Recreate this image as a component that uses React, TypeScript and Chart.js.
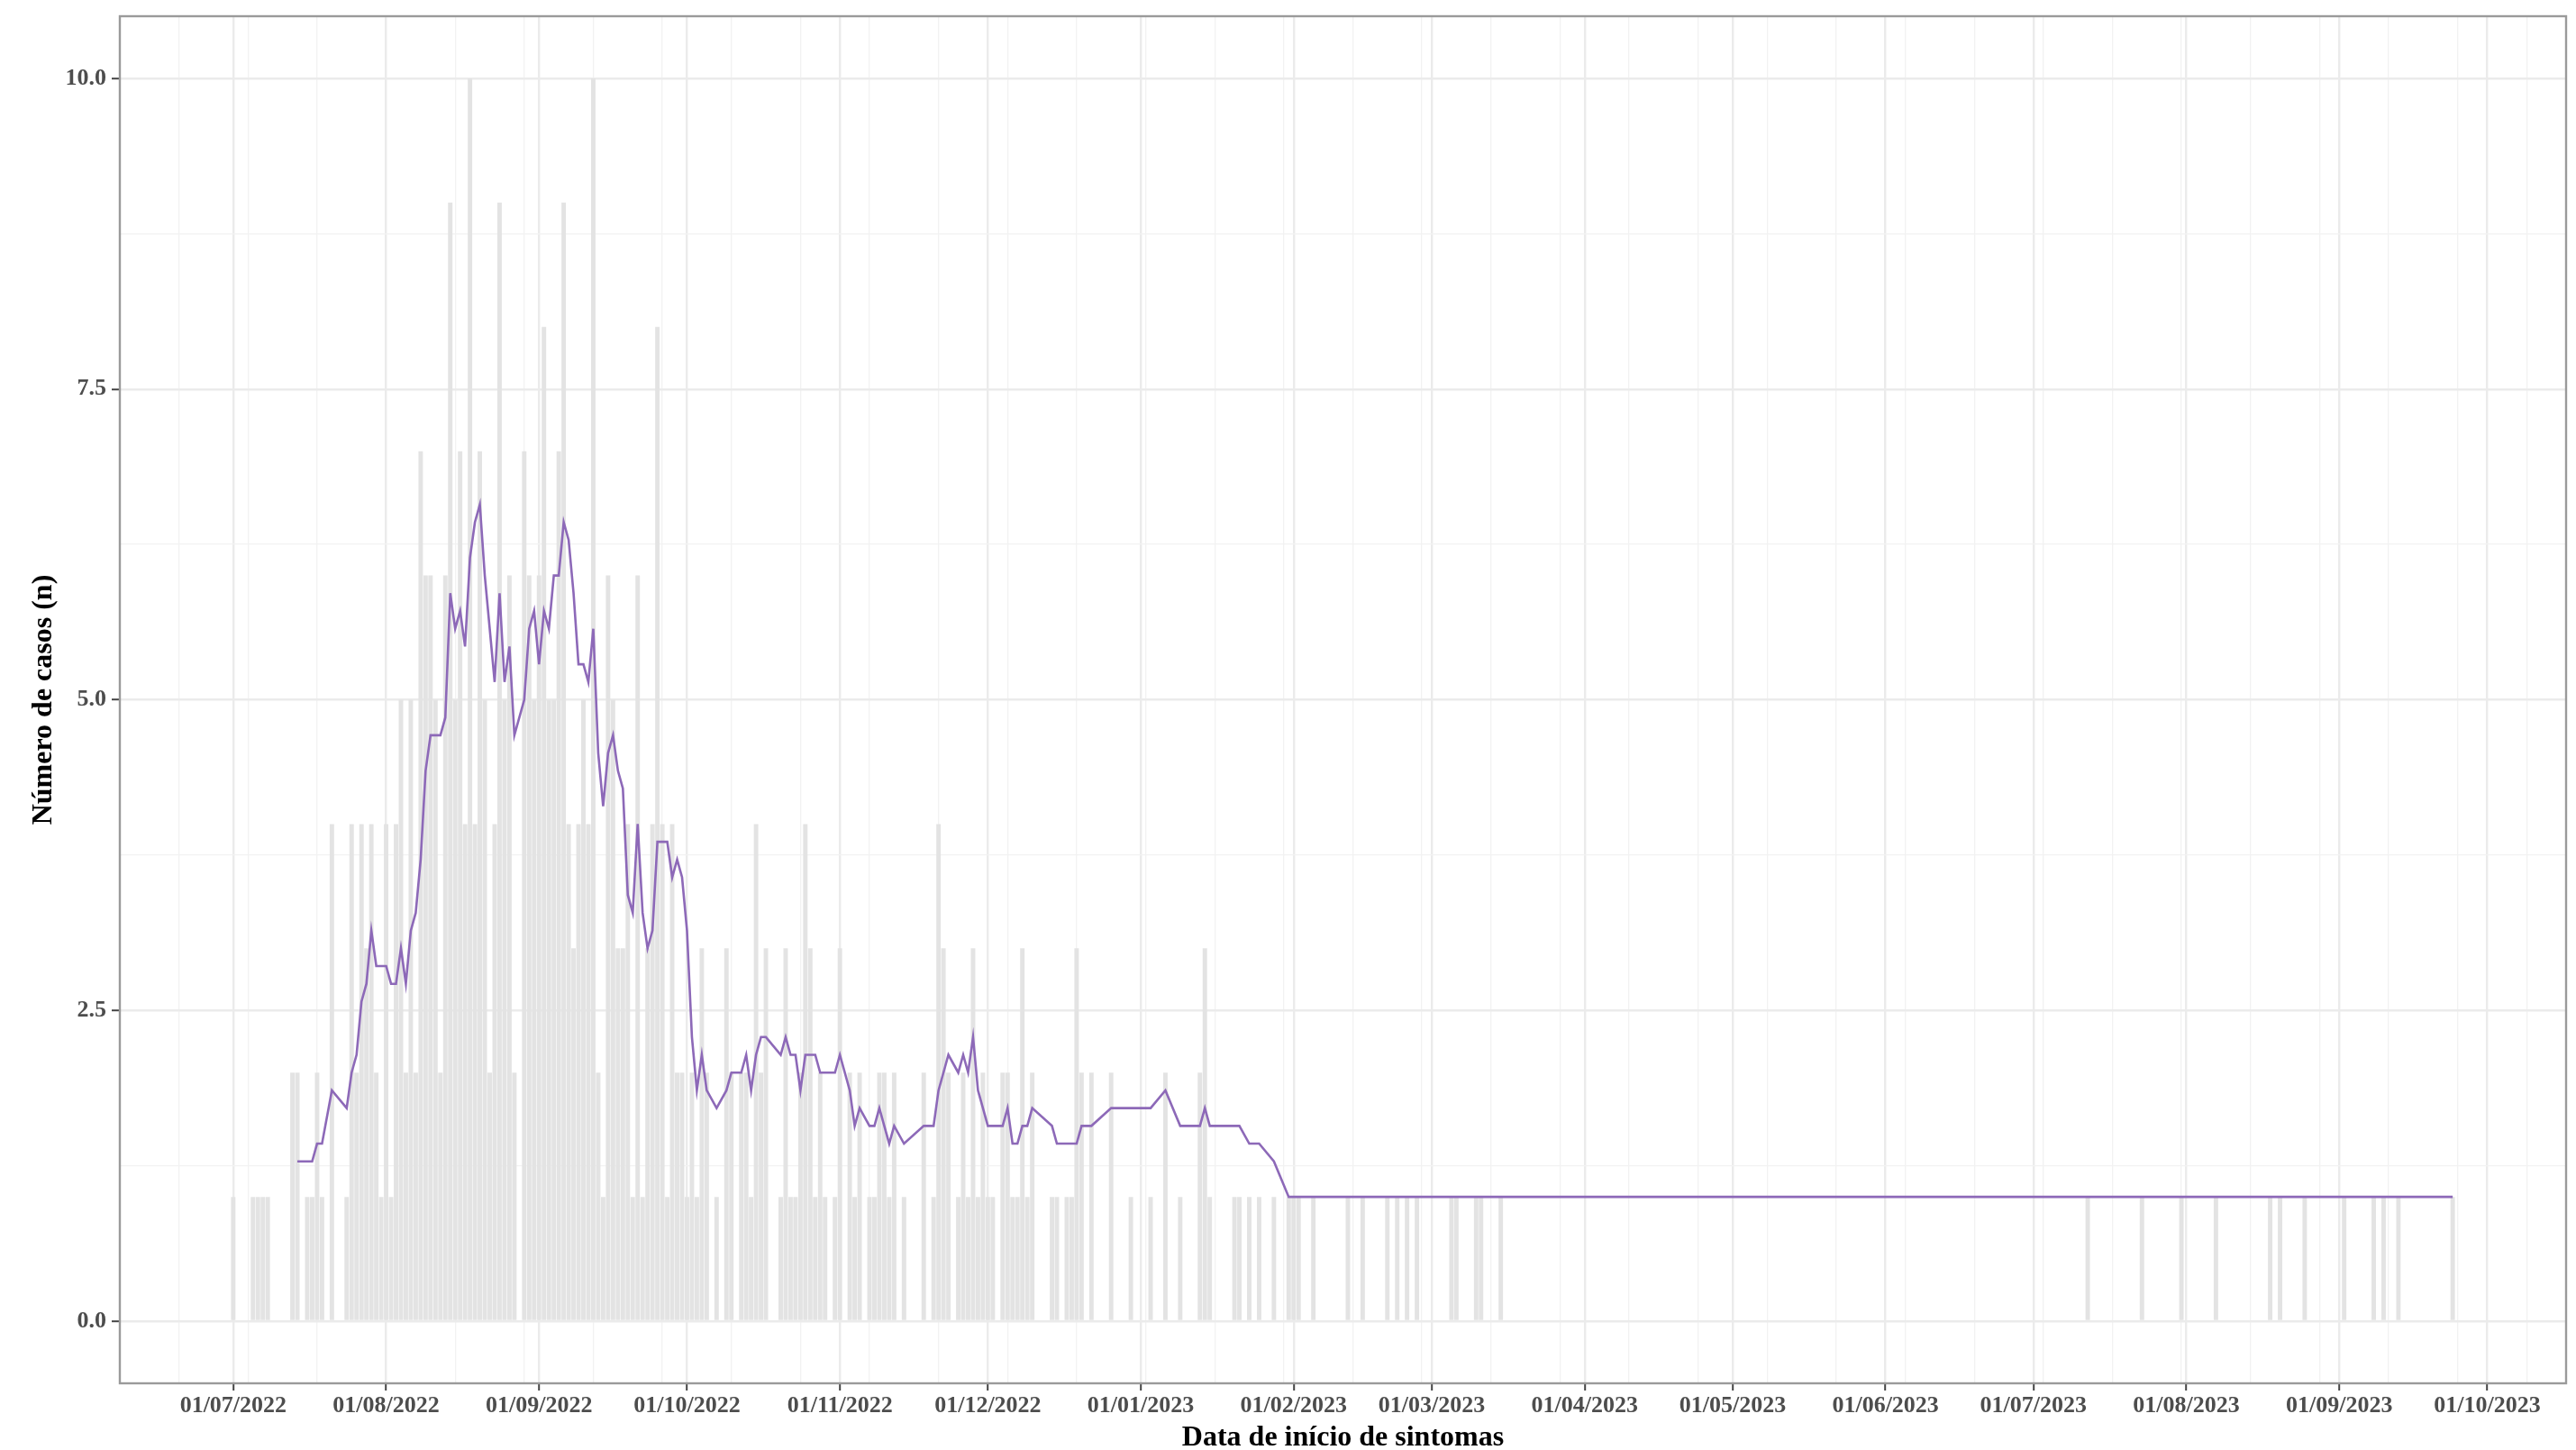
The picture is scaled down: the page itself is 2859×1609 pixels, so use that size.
import React, { useEffect, useRef } from "react";
import { Chart, registerables } from "chart.js";

Chart.register(...registerables);

// Symptom-onset dates that have at least one case, and the number of cases on each date
const caseDates: string[] = [
  // 2022-07
  "2022-07-01", "2022-07-05", "2022-07-06", "2022-07-07", "2022-07-08", "2022-07-13", "2022-07-14", "2022-07-16", "2022-07-17", "2022-07-18",
  "2022-07-19", "2022-07-21", "2022-07-24", "2022-07-25", "2022-07-26", "2022-07-27", "2022-07-28", "2022-07-29", "2022-07-30", "2022-07-31",
  // 2022-08
  "2022-08-01", "2022-08-02", "2022-08-03", "2022-08-04", "2022-08-05", "2022-08-06", "2022-08-07", "2022-08-08", "2022-08-09", "2022-08-10",
  "2022-08-11", "2022-08-12", "2022-08-13", "2022-08-14", "2022-08-15", "2022-08-16", "2022-08-17", "2022-08-18", "2022-08-19", "2022-08-20",
  "2022-08-21", "2022-08-22", "2022-08-23", "2022-08-24", "2022-08-25", "2022-08-26", "2022-08-27", "2022-08-29", "2022-08-30", "2022-08-31",
  // 2022-09
  "2022-09-01", "2022-09-02", "2022-09-03", "2022-09-04", "2022-09-05", "2022-09-06", "2022-09-07", "2022-09-08", "2022-09-09", "2022-09-10",
  "2022-09-11", "2022-09-12", "2022-09-13", "2022-09-14", "2022-09-15", "2022-09-16", "2022-09-17", "2022-09-18", "2022-09-19", "2022-09-20",
  "2022-09-21", "2022-09-22", "2022-09-23", "2022-09-24", "2022-09-25", "2022-09-26", "2022-09-27", "2022-09-28", "2022-09-29", "2022-09-30",
  // 2022-10
  "2022-10-01", "2022-10-02", "2022-10-03", "2022-10-04", "2022-10-05", "2022-10-07", "2022-10-09", "2022-10-10", "2022-10-12", "2022-10-13",
  "2022-10-14", "2022-10-15", "2022-10-16", "2022-10-17", "2022-10-20", "2022-10-21", "2022-10-22", "2022-10-23", "2022-10-24", "2022-10-25",
  "2022-10-26", "2022-10-27", "2022-10-28", "2022-10-29", "2022-10-31",
  // 2022-11
  "2022-11-01", "2022-11-03", "2022-11-04", "2022-11-05", "2022-11-07", "2022-11-08", "2022-11-09", "2022-11-10", "2022-11-11", "2022-11-12",
  "2022-11-14", "2022-11-18", "2022-11-20", "2022-11-21", "2022-11-22", "2022-11-23", "2022-11-25", "2022-11-26", "2022-11-27", "2022-11-28",
  "2022-11-29", "2022-11-30",
  // 2022-12
  "2022-12-01", "2022-12-02", "2022-12-04", "2022-12-05", "2022-12-06", "2022-12-07", "2022-12-08", "2022-12-09", "2022-12-10", "2022-12-14",
  "2022-12-15", "2022-12-17", "2022-12-18", "2022-12-19", "2022-12-20", "2022-12-22", "2022-12-26", "2022-12-30",
  // 2023-01
  "2023-01-03", "2023-01-06", "2023-01-09", "2023-01-13", "2023-01-14", "2023-01-15", "2023-01-20", "2023-01-21", "2023-01-23", "2023-01-25",
  "2023-01-28", "2023-01-31",
  // 2023-02 / 2023-03
  "2023-02-01", "2023-02-02", "2023-02-05", "2023-02-12", "2023-02-15", "2023-02-20", "2023-02-22", "2023-02-24", "2023-02-26",
  "2023-03-05", "2023-03-06", "2023-03-10", "2023-03-11", "2023-03-15",
  // 2023-07 .. 2023-09
  "2023-07-12", "2023-07-23", "2023-07-31", "2023-08-07", "2023-08-18", "2023-08-20", "2023-08-25",
  "2023-09-02", "2023-09-08", "2023-09-10", "2023-09-13", "2023-09-24",
];

const caseCounts: number[] = [
  // 2022-07
  1, 1, 1, 1, 1, 2, 2, 1, 1, 2,
  1, 4, 1, 4, 2, 4, 3, 4, 2, 1,
  // 2022-08
  4, 1, 4, 5, 2, 5, 2, 7, 6, 6,
  5, 2, 6, 9, 5, 7, 4, 10, 4, 7,
  5, 2, 4, 9, 5, 6, 2, 7, 6, 5,
  // 2022-09
  6, 8, 5, 5, 7, 9, 4, 3, 4, 5,
  4, 10, 2, 1, 6, 5, 3, 3, 4, 1,
  6, 1, 3, 4, 8, 4, 1, 4, 2, 2,
  // 2022-10
  1, 2, 1, 3, 2, 1, 3, 2, 2, 2,
  1, 4, 2, 3, 1, 3, 1, 1, 2, 4,
  3, 1, 2, 1, 1,
  // 2022-11
  3, 2, 1, 2, 1, 1, 2, 2, 1, 2,
  1, 2, 1, 4, 3, 2, 1, 2, 1, 3,
  1, 2,
  // 2022-12
  1, 1, 2, 2, 1, 1, 3, 1, 2, 1,
  1, 1, 1, 3, 2, 2, 2, 1,
  // 2023-01
  1, 2, 1, 2, 3, 1, 1, 1, 1, 1,
  1, 1,
  // 2023-02 / 2023-03
  1, 1, 1, 1, 1, 1, 1, 1, 1,
  1, 1, 1, 1, 1,
  // 2023-07 .. 2023-09
  1, 1, 1, 1, 1, 1, 1,
  1, 1, 1, 1, 1,
];

// Axis ticks
const monthTicks: string[] = [
  "2022-07-01", "2022-08-01", "2022-09-01", "2022-10-01", "2022-11-01", "2022-12-01",
  "2023-01-01", "2023-02-01", "2023-03-01", "2023-04-01", "2023-05-01", "2023-06-01",
  "2023-07-01", "2023-08-01", "2023-09-01", "2023-10-01",
];
const yTickValues: number[] = [0, 2.5, 5, 7.5, 10];

const xTitle = "Data de início de sintomas";
const yTitle = "Número de casos (n)";
const rollingWindow = 7; // moving average over the last 7 observations

// minor x grid every two weeks, anchored on a Monday
const minorGridAnchor = "2022-08-01";
const minorGridStep = 14;

const DAY_MS = 86400000;
const ORIGIN = Date.UTC(2022, 6, 1);
function toDay(iso: string): number {
  const [y, m, d] = iso.split("-").map(Number);
  return Math.round((Date.UTC(y, m - 1, d) - ORIGIN) / DAY_MS);
}
function fmtDate(iso: string): string {
  const [y, m, d] = iso.split("-");
  return `${d}/${m}/${y}`;
}

const FONT = "'Liberation Serif', 'Times New Roman', Times, serif";

export default function App() {
  const canvasRef = useRef<HTMLCanvasElement | null>(null);

  useEffect(() => {
    const canvas = canvasRef.current;
    if (!canvas) return;

    const days = caseDates.map(toDay);
    const barData = days.map((x, i) => ({ x, y: caseCounts[i] }));

    const lineData: { x: number; y: number }[] = [];
    for (let i = rollingWindow - 1; i < caseCounts.length; i++) {
      let s = 0;
      for (let j = i - rollingWindow + 1; j <= i; j++) s += caseCounts[j];
      lineData.push({ x: days[i], y: s / rollingWindow });
    }

    // ggplot-like 5% expansion of the data range (bars are 0.9 day wide)
    const lo = Math.min(...days) - 0.45;
    const hi = Math.max(...days) + 0.45;
    const xPad = (hi - lo) * 0.05;
    const xMin = lo - xPad;
    const xMax = hi + xPad;
    const yHi = Math.max(...caseCounts);
    const yPad = yHi * 0.05;

    const majorX = new Map<number, string>();
    monthTicks.forEach((t) => majorX.set(toDay(t), fmtDate(t)));
    const anchor = toDay(minorGridAnchor);
    const minorX: number[] = [];
    for (
      let k = Math.ceil((xMin - anchor) / minorGridStep);
      anchor + k * minorGridStep <= xMax;
      k++
    ) {
      const v = anchor + k * minorGridStep;
      if (!majorX.has(v)) minorX.push(v);
    }
    const xTickVals = [...majorX.keys(), ...minorX].sort((a, b) => a - b);

    const majorY = new Map<number, string>();
    yTickValues.forEach((v) => majorY.set(v, v.toFixed(1)));
    const minorY: number[] = [];
    for (let i = 0; i < yTickValues.length - 1; i++)
      minorY.push((yTickValues[i] + yTickValues[i + 1]) / 2);
    const yTickVals = [...yTickValues, ...minorY].sort((a, b) => a - b);

    const panelBorder = {
      id: "panelBorder",
      afterDatasetsDraw(chart: any) {
        const { ctx, chartArea } = chart;
        ctx.save();
        ctx.strokeStyle = "#9a9a9a";
        ctx.lineWidth = 2.4;
        ctx.strokeRect(
          chartArea.left,
          chartArea.top,
          chartArea.right - chartArea.left,
          chartArea.bottom - chartArea.top
        );
        ctx.restore();
      },
    };

    const isMajor = (map: Map<number, string>, ctx: any) =>
      ctx && ctx.tick && map.has(ctx.tick.value);

    const chart = new Chart(canvas, {
      type: "bar",
      data: {
        datasets: [
          {
            type: "line",
            data: lineData,
            borderColor: "#8d69b8",
            borderWidth: 2.6,
            pointRadius: 0,
            pointHoverRadius: 0,
            fill: false,
            tension: 0,
            order: 0,
          } as any,
          {
            type: "bar",
            data: barData,
            backgroundColor: "#e3e3e3",
            borderWidth: 0,
            barPercentage: 1,
            categoryPercentage: 0.9,
            order: 1,
          } as any,
        ],
      },
      options: {
        responsive: false,
        maintainAspectRatio: false,
        animation: false,
        devicePixelRatio: 1,
        layout: { padding: { top: 18, right: 11, left: 0, bottom: 0 } },
        plugins: {
          legend: { display: false },
          tooltip: { enabled: false },
        },
        scales: {
          x: {
            type: "linear",
            min: xMin,
            max: xMax,
            bounds: "data",
            offset: false,
            afterBuildTicks: (s: any) => {
              s.ticks = xTickVals.map((v) => ({ value: v }));
            },
            afterFit: (s: any) => {
              s.height = 74;
              s.paddingLeft = 0;
              s.paddingRight = 0;
            },
            border: { display: false },
            grid: {
              offset: false,
              drawTicks: true,
              tickLength: 8,
              tickWidth: 2,
              color: (c: any) => (isMajor(majorX, c) ? "#ebebeb" : "#f2f2f2"),
              lineWidth: (c: any) => (isMajor(majorX, c) ? 2.4 : 1.3),
              tickColor: (c: any) => (isMajor(majorX, c) ? "#444444" : "rgba(0,0,0,0)"),
            },
            ticks: {
              autoSkip: false,
              maxRotation: 0,
              minRotation: 0,
              padding: 2,
              color: "#4d4d4d",
              font: { family: FONT, size: 26, weight: "bold" },
              callback: (v: any) => majorX.get(Number(v)) ?? "",
            },
            title: {
              display: true,
              text: xTitle,
              color: "#000000",
              font: { family: FONT, size: 32, weight: "bold", lineHeight: 0.8 },
              padding: { top: 0, bottom: 0 },
            },
          },
          y: {
            type: "linear",
            min: -yPad,
            max: yHi + yPad,
            bounds: "data",
            afterBuildTicks: (s: any) => {
              s.ticks = yTickVals.map((v) => ({ value: v }));
            },
            afterFit: (s: any) => {
              s.width = 133;
              s.paddingTop = 0;
              s.paddingBottom = 0;
            },
            border: { display: false },
            grid: {
              drawTicks: true,
              tickLength: 9,
              tickWidth: 2,
              color: (c: any) => (isMajor(majorY, c) ? "#ebebeb" : "#f2f2f2"),
              lineWidth: (c: any) => (isMajor(majorY, c) ? 2.4 : 1.3),
              tickColor: (c: any) => (isMajor(majorY, c) ? "#444444" : "rgba(0,0,0,0)"),
            },
            ticks: {
              autoSkip: false,
              padding: 6,
              color: "#4d4d4d",
              font: { family: FONT, size: 26, weight: "bold" },
              callback: (v: any) => majorY.get(Number(v)) ?? "",
            },
            title: {
              display: true,
              text: yTitle,
              color: "#000000",
              font: { family: FONT, size: 32, weight: "bold", lineHeight: 1.2 },
              padding: { top: 30, bottom: 0 },
            },
          },
        },
      } as any,
      plugins: [panelBorder],
    });

    return () => chart.destroy();
  }, []);

  return (
    <div
      style={{
        position: "absolute",
        left: 0,
        top: 0,
        width: 2859,
        height: 1609,
        background: "#ffffff",
      }}
    >
      <canvas
        ref={canvasRef}
        width={2859}
        height={1609}
        style={{ display: "block", width: 2859, height: 1609 }}
      />
    </div>
  );
}
